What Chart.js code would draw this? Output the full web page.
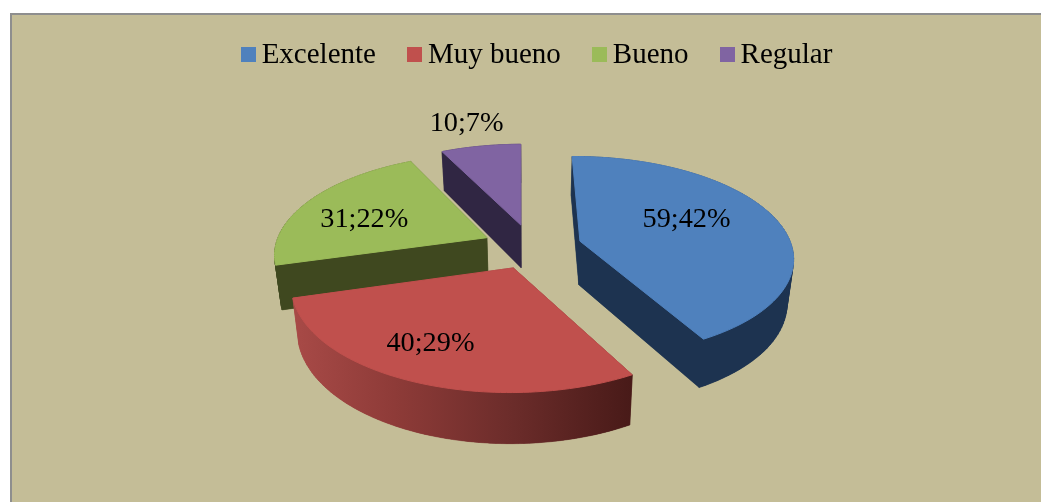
<!DOCTYPE html>
<html><head><meta charset="utf-8">
<style>
html,body{margin:0;padding:0;background:#fff;overflow:hidden}
#frame{position:absolute;left:10px;top:13px;width:1029px;height:487px;background:#c4bd97;border-left:2px solid #8e8e8e;border-top:2px solid #8e8e8e}
#c{position:absolute;left:0;top:0}
</style>
<script src="https://cdn.jsdelivr.net/npm/chart.js@4/dist/chart.umd.min.js"></script>
</head><body>
<div id="frame"></div>
<canvas id="c" width="1041" height="502"></canvas>
<script>
const categories = ["Excelente", "Muy bueno", "Bueno", "Regular"];
const values = [59, 40, 31, 10];
const percents = [42, 29, 22, 7];
const faceColors = ["#4f81bd", "#c0504d", "#9bbb59", "#8064a2"];
const wallStops = [
  [[0, "#1d3350"], [1, "#1d3350"]],
  [[0, "#a84a47"], [0.3, "#8e3b38"], [0.65, "#6b2c2a"], [1, "#481a18"]],
  [[0, "#3f481f"], [1, "#3f481f"]],
  [[0, "#302643"], [1, "#302643"]]
];
const explode = [50, 47, 50, 50];
const paintOrder = [2, 3, 0, 1];
const labelRadius = [123, 154, 135, 286];
const labelTurnDeg = [-6.5, 3.5, -4.9, -0.5];

const FONT = '"Liberation Serif","Times New Roman",serif';
const LABEL_SIZE = 28.3, LEGEND_SIZE = 29;
const CX = 532, CY = 247, R = 212, TILT = 99, PERSP = 0.15;

function project(u, v) {
  const s = 1 / (1 - PERSP * v / R);
  return [CX + u * s, CY + TILT * (v / R) * s];
}
function lower(p) {
  return [CX + (p[0] - CX) * 0.975, p[1] + 44 + (p[1] - 250) * 0.05];
}
function outline(el, off) {
  const mid = (el.startAngle + el.endAngle) / 2;
  const ou = Math.cos(mid) * off, ov = Math.sin(mid) * off;
  const pts = [project(ou, ov)];
  const n = 80;
  for (let i = 0; i <= n; i++) {
    const t = el.startAngle + (el.endAngle - el.startAngle) * i / n;
    pts.push(project(ou + R * Math.cos(t), ov + R * Math.sin(t)));
  }
  return pts;
}
function poly(ctx, pts) {
  ctx.beginPath();
  pts.forEach((p, i) => i ? ctx.lineTo(p[0], p[1]) : ctx.moveTo(p[0], p[1]));
  ctx.closePath();
}

const pie3d = {
  id: "pie3d",
  beforeDatasetsDraw(chart) {
    const ctx = chart.ctx;
    const arcs = chart.getDatasetMeta(0).data;
    ctx.save();
    ctx.lineJoin = "round";
    paintOrder.forEach(i => {
      const top = outline(arcs[i], explode[i]);
      const low = top.map(lower);
      const xs = low.concat(top).map(p => p[0]);
      const g = ctx.createLinearGradient(Math.min(...xs), 0, Math.max(...xs), 0);
      wallStops[i].forEach(s => g.addColorStop(s[0], s[1]));
      ctx.fillStyle = g; ctx.strokeStyle = g; ctx.lineWidth = 0.5;
      poly(ctx, low); ctx.fill();
      top.forEach((p, k) => {
        const q = (k + 1) % top.length;
        poly(ctx, [p, top[q], low[q], low[k]]);
        ctx.fill(); ctx.stroke();
      });
      ctx.fillStyle = faceColors[i];
      ctx.strokeStyle = faceColors[i];
      ctx.lineWidth = 1;
      poly(ctx, top); ctx.fill(); ctx.stroke();
    });
    // value labels
    ctx.fillStyle = "#000";
    ctx.font = LABEL_SIZE + "px " + FONT;
    ctx.textAlign = "center"; ctx.textBaseline = "middle";
    arcs.forEach((el, i) => {
      const mid = (el.startAngle + el.endAngle) / 2 + labelTurnDeg[i] * Math.PI / 180;
      const d = explode[i] + labelRadius[i];
      const p = project(d * Math.cos(mid), d * Math.sin(mid));
      ctx.fillText(values[i] + ";" + percents[i] + "%", p[0], p[1]);
    });
    // legend
    ctx.font = LEGEND_SIZE + "px " + FONT;
    ctx.textAlign = "left";
    const widths = categories.map(c => ctx.measureText(c).width);
    const total = widths.reduce((a, b) => a + b, 0) + categories.length * 21 + (categories.length - 1) * 31;
    let x = (1041 - total) / 2 + 16;
    categories.forEach((c, i) => {
      ctx.fillStyle = faceColors[i];
      ctx.fillRect(Math.round(x), 47, 15, 15);
      ctx.fillStyle = "#000";
      ctx.fillText(c, x + 21, 55);
      x += 21 + widths[i] + 31;
    });
    ctx.restore();
    return false;
  }
};

new Chart(document.getElementById("c"), {
  type: "pie",
  data: { labels: categories, datasets: [{ data: values, backgroundColor: faceColors, offset: explode, borderWidth: 0 }] },
  options: {
    responsive: false, animation: false, rotation: -0.5,
    plugins: { legend: { display: false }, tooltip: { enabled: false } }
  },
  plugins: [pie3d]
});
</script>
</body></html>
